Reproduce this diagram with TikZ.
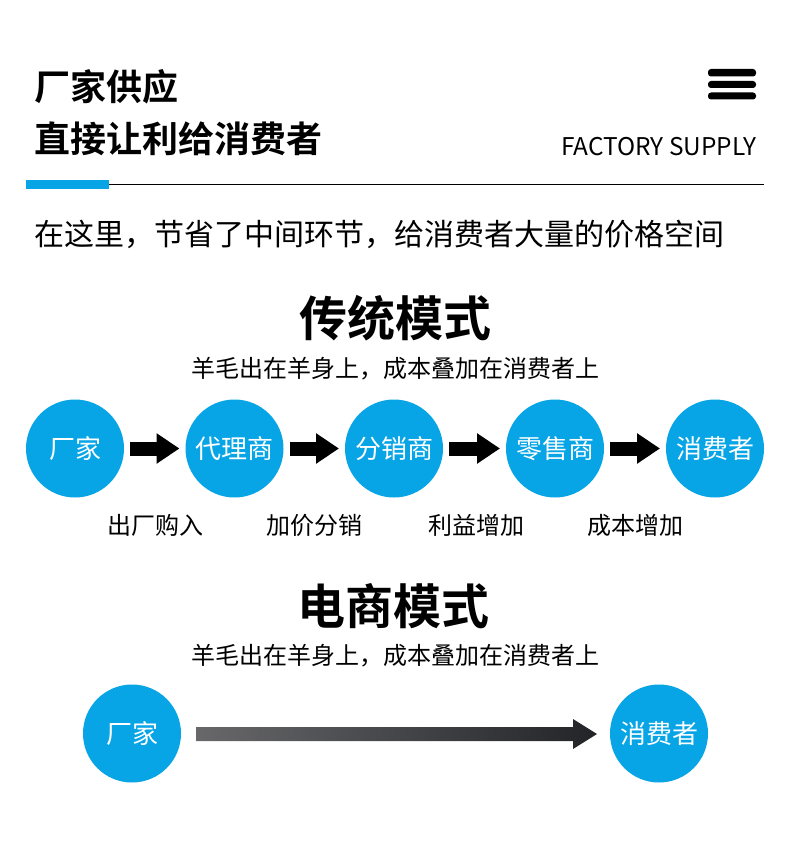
\documentclass[tikz,border=0pt]{standalone}
\usepackage{fontspec}
\usetikzlibrary{arrows.meta,calc}
\newfontfamily\cjk[BoldFont={Noto Sans CJK SC Bold}]{Noto Sans CJK SC}
\definecolor{brandblue}{HTML}{07A5E6}
\definecolor{gradstart}{HTML}{68686B}
\definecolor{gradend}{HTML}{222428}
\tikzset{
  x=1pt,y=-1pt,
  every node/.style={inner sep=0pt,outer sep=0pt,font=\cjk},
  stage/.style={circle,fill=brandblue,minimum size=98pt,text=white,font=\cjk\fontsize{26}{26}\selectfont},
  flow/.style={line width=14pt,-{Triangle[length=23pt,width=29pt]},shorten >=6pt,shorten <=6pt},
  note/.style={font=\cjk\fontsize{24}{24}\selectfont},
  heading/.style={font=\cjk\bfseries\fontsize{48}{48}\selectfont},
  title/.style={anchor=west,font=\cjk\bfseries\fontsize{36}{36}\selectfont},
  bar/.style={fill=black,rounded corners=3pt}
}
\begin{document}
\begin{tikzpicture}
\useasboundingbox (0,0) rectangle (790,853);
\node[title] (t1) at (34.5,87) {厂家供应};
\node[title] (t2) at (34.5,139) {直接让利给消费者};
\node[anchor=east,font=\cjk\fontsize{24.4}{25}\selectfont] (en) at (756.5,147) {FACTORY SUPPLY};
\fill[bar] (708,69) rectangle (756,76.5);
\fill[bar] (708,81) rectangle (756,88);
\fill[bar] (708,92.5) rectangle (756,99.5);
\draw[line width=1.2pt] (26,184.5) -- (764,184.5);
\fill[brandblue] (26,180) rectangle (109,189);
\node[anchor=west,font=\cjk\fontsize{30}{30}\selectfont] (intro) at (34.5,234) {在这里，节省了中间环节，给消费者大量的价格空间};

\node[heading] (h1) at (395,318.5) {传统模式};
\node[note] (s1) at (395,368.5) {羊毛出在羊身上，成本叠加在消费者上};
\node[stage] (a) at (75,448.5) {厂家};
\node[stage] (b) at (234.5,448.5) {代理商};
\node[stage] (c) at (394,448.5) {分销商};
\node[stage] (d) at (555,448.5) {零售商};
\node[stage] (e) at (715,448.5) {消费者};
\draw[flow] (a) -- (b);
\draw[flow] (b) -- (c);
\draw[flow] (c) -- (d);
\draw[flow] (d) -- (e);
\node[note] (l1) at (155,525) {出厂购入};
\node[note] (l2) at (314.5,525) {加价分销};
\node[note] (l3) at (476,525) {利益增加};
\node[note] (l4) at (635.5,525) {成本增加};

\node[heading] (h2) at (393.5,606) {电商模式};
\node[note] (s2) at (395,655.5) {羊毛出在羊身上，成本叠加在消费者上};
\node[stage] (f) at (132,733.5) {厂家};
\node[stage] (g) at (659,733.5) {消费者};
\coordinate (gs) at ($(f.east)+(15,0.5)$);
\coordinate (ge) at ($(g.west)+(-13,0.5)$);
\shade[left color=gradstart,right color=gradend]
  ($(gs)+(0,-7)$) -- ($(ge)+(-24,-7)$) -- ($(ge)+(-24,-15)$) -- (ge)
  -- ($(ge)+(-24,15)$) -- ($(ge)+(-24,7)$) -- ($(gs)+(0,7)$) -- cycle;
\end{tikzpicture}
\end{document}
